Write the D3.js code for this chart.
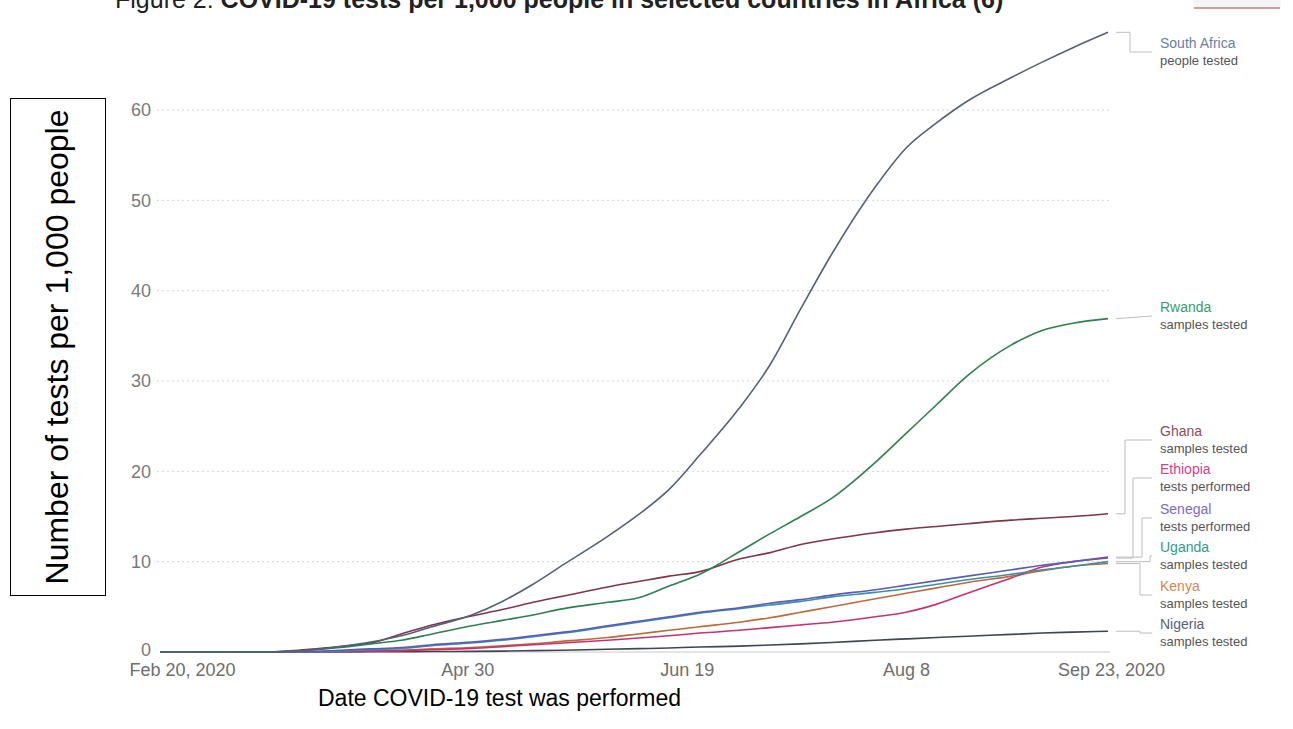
<!DOCTYPE html>
<html>
<head>
<meta charset="utf-8">
<script src="https://cdn.jsdelivr.net/npm/d3@7"></script>
<style>
  html, body { margin: 0; padding: 0; background: #fff; }
  svg { display: block; font-family: "Liberation Sans", Arial, sans-serif; }
</style>
</head>
<body>
<svg id="chart" width="1293" height="729"></svg>
<script>
// ---------- DATA ----------
const dates = ["2020-02-20","2020-03-01","2020-03-15","2020-03-20","2020-03-25","2020-04-01","2020-04-08",
  "2020-04-15","2020-04-22","2020-05-01","2020-05-08","2020-05-15","2020-05-22","2020-06-01","2020-06-08",
  "2020-06-15","2020-06-22","2020-07-01","2020-07-08","2020-07-15","2020-07-22","2020-08-01","2020-08-08",
  "2020-08-15","2020-08-22","2020-09-01","2020-09-08","2020-09-15","2020-09-23"];

const southAfrica = [0,0,0,0.1,0.2,0.6,1.1,1.8,2.8,4.1,5.6,7.5,9.7,12.8,15.2,18,21.8,27,31.8,38,44,51.5,55.8,58.6,61,63.6,65.3,66.9,68.6];
const rwanda      = [0,0,0,0.05,0.2,0.5,0.9,1.3,2.0,2.9,3.5,4.1,4.8,5.5,6.0,7.3,8.6,11.1,13.1,15.0,17.0,21.0,24.2,27.4,30.6,34.0,35.6,36.4,36.9];
const ghana       = [0,0,0,0.1,0.3,0.6,1.0,2.0,3.0,4.0,4.7,5.5,6.2,7.2,7.8,8.4,8.9,10.3,11.0,11.9,12.5,13.2,13.6,13.9,14.2,14.6,14.8,15.0,15.3];
const ethiopia    = [0,0,0,0,0,0.05,0.1,0.15,0.25,0.4,0.6,0.8,1.0,1.3,1.55,1.8,2.1,2.4,2.7,3.0,3.3,3.9,4.4,5.3,6.5,8.2,9.4,10.0,10.4];
const senegal     = [0,0,0,0,0.05,0.2,0.35,0.5,0.8,1.1,1.4,1.8,2.2,2.9,3.4,3.9,4.4,4.9,5.4,5.8,6.3,6.9,7.4,7.9,8.4,9.1,9.6,10.0,10.5];
const uganda      = [0,0,0,0,0.03,0.1,0.25,0.4,0.7,1.0,1.3,1.7,2.1,2.8,3.3,3.8,4.3,4.8,5.2,5.6,6.1,6.6,7.0,7.5,8.0,8.6,9.1,9.5,10.0];
const kenya       = [0,0,0,0,0,0.05,0.1,0.2,0.35,0.5,0.7,0.9,1.2,1.6,2.0,2.4,2.8,3.3,3.8,4.4,5.0,5.9,6.5,7.1,7.7,8.4,9.0,9.5,9.8];
const nigeria     = [0,0,0,0,0,0.01,0.02,0.03,0.05,0.07,0.1,0.15,0.2,0.3,0.37,0.45,0.55,0.65,0.77,0.9,1.05,1.3,1.45,1.6,1.75,1.95,2.1,2.2,2.3];

const countries  = ["South Africa","Rwanda","Ghana","Ethiopia","Senegal","Uganda","Kenya","Nigeria"];
const metrics    = ["people tested","samples tested","samples tested","tests performed","tests performed","samples tested","samples tested","samples tested"];
const seriesVals = [southAfrica, rwanda, ghana, ethiopia, senegal, uganda, kenya, nigeria];

const yTicks = [0,10,20,30,40,50,60];
const xTickDates  = ["2020-02-20","2020-04-30","2020-06-19","2020-08-08","2020-09-23"];
const xTickLabels = ["Feb 20, 2020","Apr 30","Jun 19","Aug 8","Sep 23, 2020"];

// ---------- STYLE ----------
const lineColors  = ["#55607a","#2f7f50","#7d3548","#c8316f","#5b5bb8","#3b8fa6","#bb6a3c","#3f4652"];
const labelColors = ["#6a7fa6","#3d9a68","#8a4d60","#d2418a","#7c6ac4","#2f9c8c","#cf8650","#57617a"];
const labelY      = [52, 316, 440, 478, 518, 556, 595, 633];
const elbowX      = [1130, null, 1125, 1133, 1142, 1150, 1140, 1140];

// ---------- CHART ----------
const svg = d3.select("#chart");
const parse = d3.utcParse("%Y-%m-%d");

const x = d3.scaleUtc().domain([parse("2020-02-20"), parse("2020-09-23")]).range([160, 1108]);
const y = d3.scaleLinear().domain([0, 60]).range([652, 110]);

// title (cut off at top)
const title = svg.append("text").attr("x", 115).attr("y", 8).attr("font-size", 25).attr("fill", "#222");
title.append("tspan").text("Figure 2: ");
title.append("tspan").attr("font-weight", "bold").text("COVID-19 tests per 1,000 people in selected countries in Africa (6)");

// top-right fragment
svg.append("rect").attr("x", 1193).attr("y", 0).attr("width", 88).attr("height", 7).attr("fill", "#f6f6f6");
svg.append("line").attr("x1", 1194).attr("x2", 1280).attr("y1", 8).attr("y2", 8)
  .attr("stroke", "#d99a9a").attr("stroke-width", 2);

// gridlines
svg.append("g").selectAll("line").data(yTicks.filter(d => d > 0)).join("line")
  .attr("x1", 157).attr("x2", 1110)
  .attr("y1", d => y(d)).attr("y2", d => y(d))
  .attr("stroke", "#d4d4d4").attr("stroke-dasharray", "2,3");

// baseline
svg.append("line").attr("x1", 160).attr("x2", 1110).attr("y1", y(0)).attr("y2", y(0))
  .attr("stroke", "#c8c8c8");

// y axis
const yAxis = d3.axisLeft(y).tickValues(yTicks).tickSize(0).tickPadding(0);
const gy = svg.append("g").attr("transform", "translate(151,0)").call(yAxis);
gy.select(".domain").remove();
gy.selectAll("text").attr("font-size", 18).attr("fill", "#7a7a7a")
  .attr("font-family", "'Liberation Sans', Arial, sans-serif")
  .attr("dy", (d) => d === 0 ? "0.2em" : "0.32em");

// x axis
const xAxis = d3.axisBottom(x).tickValues(xTickDates.map(parse))
  .tickFormat((d, i) => xTickLabels[i]).tickSize(0).tickPadding(0);
const gx = svg.append("g").attr("transform", "translate(0,663)").call(xAxis);
gx.select(".domain").remove();
gx.selectAll("text").attr("font-size", 18).attr("fill", "#6e6e6e")
  .attr("font-family", "'Liberation Sans', Arial, sans-serif")
  .attr("dx", (d, i) => i === 0 ? 22 : (i === xTickDates.length - 1 ? 3 : 0));

// lines
const line = d3.line().x(d => x(d.date)).y(d => y(d.value)).curve(d3.curveMonotoneX);
const parsedDates = dates.map(parse);
const series = countries.map((c, i) => ({
  name: c, metric: metrics[i], color: lineColors[i], lcolor: labelColors[i],
  values: parsedDates.map((dt, j) => ({ date: dt, value: seriesVals[i][j] }))
}));

const drawOrder = [7, 6, 3, 5, 4, 2, 1, 0];
svg.append("g").selectAll("path").data(drawOrder.map(i => series[i])).join("path")
  .attr("d", d => line(d.values))
  .attr("fill", "none").attr("stroke", d => d.color).attr("stroke-width", 1.6)
  .attr("stroke-linejoin", "round");

// connectors
const conn = svg.append("g").attr("fill", "none").attr("stroke", "#bdbdbd").attr("stroke-width", 1);
series.forEach((s, i) => {
  const last = s.values[s.values.length - 1];
  const y0 = y(last.value), y1 = labelY[i];
  const x0 = x(last.date) + 8;
  const ex = elbowX[i];
  let p;
  if (ex === null) p = `M${x0},${y0}L1152,${y1}`;
  else p = `M${x0},${y0}L${ex},${y0}L${ex},${y1}L1152,${y1}`;
  conn.append("path").attr("d", p);
});

// labels
const lab = svg.append("g");
series.forEach((s, i) => {
  lab.append("text").attr("x", 1160).attr("y", labelY[i] - 4)
    .attr("font-size", 14).attr("fill", s.lcolor).text(s.name);
  lab.append("text").attr("x", 1160).attr("y", labelY[i] + 13)
    .attr("font-size", 13).attr("fill", "#555").text(s.metric);
});

// y axis title box
svg.append("rect").attr("x", 10.5).attr("y", 98.5).attr("width", 95).attr("height", 497)
  .attr("fill", "none").attr("stroke", "#000").attr("stroke-width", 1);
svg.append("text").attr("transform", "translate(68,347) rotate(-90)")
  .attr("text-anchor", "middle").attr("font-size", 32).attr("fill", "#000")
  .text("Number of tests per 1,000 people");

// x axis title
svg.append("text").attr("x", 318).attr("y", 706)
  .attr("font-size", 23).attr("fill", "#000").text("Date COVID-19 test was performed");
</script>
</body>
</html>
